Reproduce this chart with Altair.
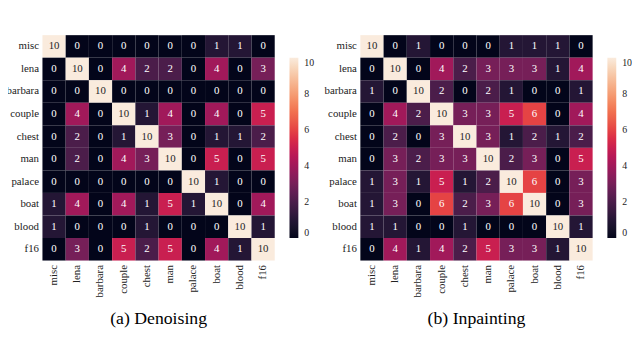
import altair as alt
import pandas as pd

names = ["misc", "lena", "barbara", "couple", "chest", "man", "palace", "boat", "blood", "f16"]

denoising = [
    [10, 0, 0, 0, 0, 0, 0, 1, 1, 0],
    [0, 10, 0, 4, 2, 2, 0, 4, 0, 3],
    [0, 0, 10, 0, 0, 0, 0, 0, 0, 0],
    [0, 4, 0, 10, 1, 4, 0, 4, 0, 5],
    [0, 2, 0, 1, 10, 3, 0, 1, 1, 2],
    [0, 2, 0, 4, 3, 10, 0, 5, 0, 5],
    [0, 0, 0, 0, 0, 0, 10, 1, 0, 0],
    [1, 4, 0, 4, 1, 5, 1, 10, 0, 4],
    [1, 0, 0, 0, 1, 0, 0, 0, 10, 1],
    [0, 3, 0, 5, 2, 5, 0, 4, 1, 10],
]

inpainting = [
    [10, 0, 1, 0, 0, 0, 1, 1, 1, 0],
    [0, 10, 0, 4, 2, 3, 3, 3, 1, 4],
    [1, 0, 10, 2, 0, 2, 1, 0, 0, 1],
    [0, 4, 2, 10, 3, 3, 5, 6, 0, 4],
    [0, 2, 0, 3, 10, 3, 1, 2, 1, 2],
    [0, 3, 2, 3, 3, 10, 2, 3, 0, 5],
    [1, 3, 1, 5, 1, 2, 10, 6, 0, 3],
    [1, 3, 0, 6, 2, 3, 6, 10, 0, 3],
    [1, 1, 0, 0, 1, 0, 0, 0, 10, 1],
    [0, 4, 1, 4, 2, 5, 3, 3, 1, 10],
]

titles = ["(a) Denoising", "(b) Inpainting"]
legend_values = [0, 2, 4, 6, 8, 10]
rocket_colors = ["#03051a", "#35193e", "#701f57", "#ad1759",
                 "#e13342", "#f37651", "#f6b48f", "#faebdd"]
stops = [i * 10 / 7 for i in range(8)]

FONT = "'Liberation Serif', 'Times New Roman', 'DejaVu Serif', serif"


def panel(matrix, title):
    rows = []
    for i, r in enumerate(names):
        for j, c in enumerate(names):
            rows.append({"row": r, "col": c, "value": matrix[i][j]})
    df = pd.DataFrame(rows)
    base = alt.Chart(df).encode(
        x=alt.X("col:N", sort=names,
                scale=alt.Scale(paddingInner=0, paddingOuter=0),
                axis=alt.Axis(title=None, labelAngle=270, domain=False, ticks=False,
                              labelPadding=4, labelFont=FONT, labelFontSize=11,
                              labelColor="#222222")),
        y=alt.Y("row:N", sort=names,
                scale=alt.Scale(paddingInner=0, paddingOuter=0),
                axis=alt.Axis(title=None, domain=False, ticks=False,
                              labelPadding=4, labelFont=FONT, labelFontSize=11,
                              labelColor="#222222")),
    )
    rect = base.mark_rect().encode(
        color=alt.Color("value:Q",
                        scale=alt.Scale(domain=stops, range=rocket_colors),
                        legend=alt.Legend(title=None, orient="none", legendX=251, legendY=23,
                                          direction="vertical", gradientLength=183,
                                          gradientThickness=9, gradientStrokeWidth=0,
                                          values=legend_values, labelFont=FONT,
                                          labelFontSize=10, labelColor="#222222",
                                          labelOffset=6)),
    )
    text = base.mark_text(font=FONT, fontSize=11).encode(
        text="value:Q",
        color=alt.condition(alt.datum.value >= 8, alt.value("#262626"), alt.value("#ffffff")),
    )
    return alt.layer(rect, text).properties(
        width=236, height=229,
        title=alt.TitleParams(title, orient="bottom", font=FONT, fontSize=18,
                              fontWeight="normal", color="#000000", offset=14),
    )


chart = alt.hconcat(
    panel(denoising, titles[0]),
    panel(inpainting, titles[1]),
    spacing=10,
).resolve_scale(color="independent").properties(
    padding={"left": -2, "top": 25, "right": 0, "bottom": 0}
).configure(font=FONT).configure_view(stroke=None)

chart.save("out.html", embed_options={"renderer": "svg", "actions": False})
